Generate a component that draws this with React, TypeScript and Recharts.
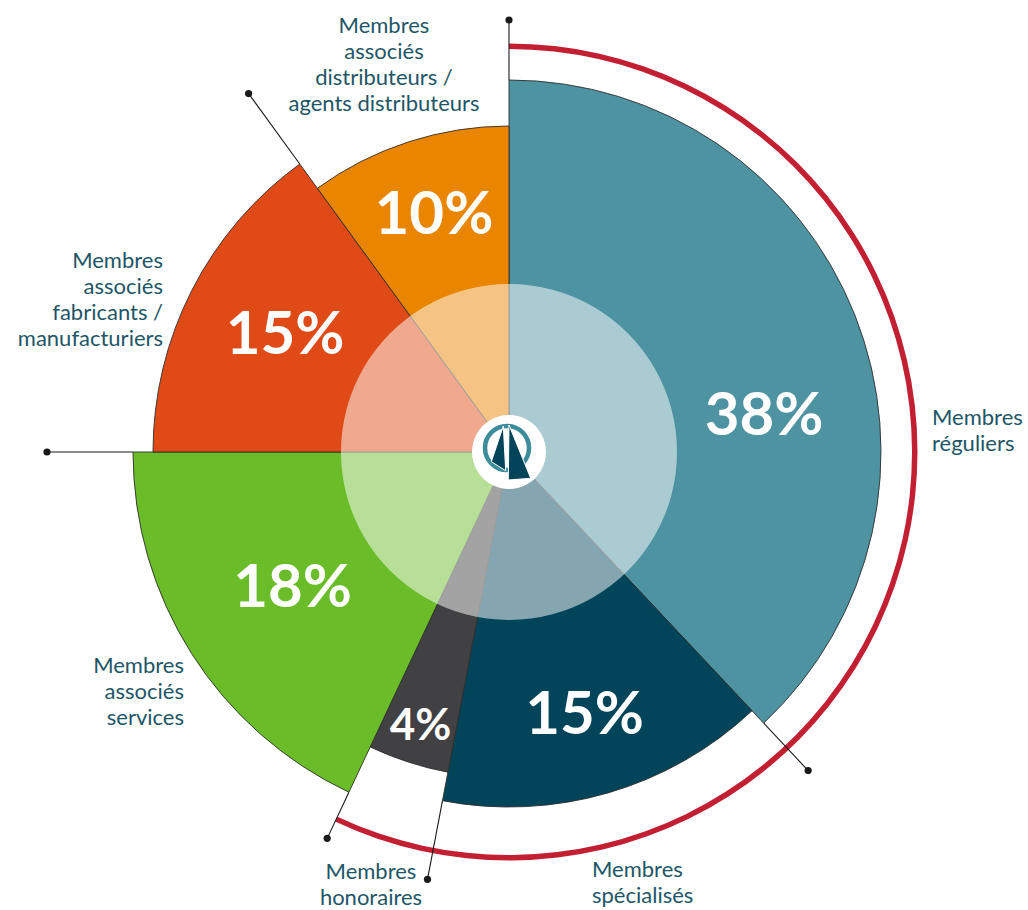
import React from "react";
import { PieChart, Pie, Cell } from "recharts";

// ---------- data ----------
const categories = [
  "Membres réguliers",
  "Membres spécialisés",
  "Membres honoraires",
  "Membres associés services",
  "Membres associés fabricants / manufacturiers",
  "Membres associés distributeurs / agents distributeurs",
];
const categoryLines = [
  ["Membres", "réguliers"],
  ["Membres", "spécialisés"],
  ["Membres", "honoraires"],
  ["Membres", "associés", "services"],
  ["Membres", "associés", "fabricants /", "manufacturiers"],
  ["Membres", "associés", "distributeurs /", "agents distributeurs"],
];
const shares = [38, 15, 4, 18, 15, 10];
const regularGroupSize = 3; // réguliers + spécialisés + honoraires (red arc)

// ---------- styles ----------
const colors = ["#4E93A2", "#02455A", "#414042", "#6ABD28", "#DF4A16", "#EA8500"];
const sliceRadii = [372, 355, 326, 376, 356, 326];
const leaderRadii = [432, 437, 435, 427, 462, 443];
const pctRadii = [258, 271, 286, 254, 254, 251];
const pctAngleShift = [13, 0, 0, 0.8, 1.2, 0.6];
const pctFont = [60, 60, 44, 60, 60, 60];
const labelOffsets = [
  { dx: 423, dy: -27, anchor: "start" },
  { dx: 83, dy: 425, anchor: "start" },
  { dx: -138, dy: 427, anchor: "middle" },
  { dx: -325, dy: 221, anchor: "end" },
  { dx: -346, dy: -184, anchor: "end" },
  { dx: -125, dy: -419, anchor: "middle" },
];
const CX = 509;
const CY = 452;
const RAD = Math.PI / 180;
const TEXT = "#1E5667";
const FONT = "Lato, 'Open Sans', sans-serif";

const rows = categories.map((name, i) => ({ name, value: shares[i] }));
const groupTotal = shares.slice(0, regularGroupSize).reduce((a, b) => a + b, 0);
const total = shares.reduce((a, b) => a + b, 0);
const groupRows = [
  { name: "Membres réguliers (groupe)", value: groupTotal },
  { name: "Membres associés", value: total - groupTotal },
];
const single = [{ name: "centre", value: 1 }];

const polar = (cx: number, cy: number, r: number, a: number) => ({
  x: cx + r * Math.cos(-a * RAD),
  y: cy + r * Math.sin(-a * RAD),
});

const renderLeader = (p: any) => {
  const i = p.index;
  const prev = (i + rows.length - 1) % rows.length;
  const r0 = Math.max(sliceRadii[i], sliceRadii[prev]);
  const a = p.startAngle;
  const s = polar(p.cx, p.cy, r0, a);
  const e = polar(p.cx, p.cy, leaderRadii[i], a);
  return (
    <g key={`leader-${i}`}>
      <line x1={s.x} y1={s.y} x2={e.x} y2={e.y} stroke="#1a1a1a" strokeWidth={1.1} />
      <circle cx={e.x} cy={e.y} r={3.6} fill="#1a1a1a" />
    </g>
  );
};

const renderLabels = (p: any) => {
  const i = p.index;
  const a = p.midAngle - pctAngleShift[i];
  const c = polar(p.cx, p.cy, pctRadii[i], a);
  const fs = pctFont[i];
  const off = labelOffsets[i];
  return (
    <g key={`lab-${i}`}>
      <text
        x={c.x}
        y={c.y + fs * 0.36}
        textAnchor="middle"
        fill="#ffffff"
        fontFamily={FONT}
        fontWeight={700}
        fontSize={fs}
      >
        {`${shares[i]}%`}
      </text>
      <text
        x={p.cx + off.dx}
        y={p.cy + off.dy}
        textAnchor={off.anchor}
        fill={TEXT}
        fontFamily={FONT}
        fontSize={22}
      >
        {categoryLines[i].map((ln, k) => (
          <tspan key={k} x={p.cx + off.dx} dy={k === 0 ? 0 : 26}>
            {ln}
          </tspan>
        ))}
      </text>
    </g>
  );
};

const renderLogo = (p: any) => {
  const { cx, cy } = p;
  return (
    <g key="logo">
      <circle cx={cx - 2} cy={cy - 4} r={22} fill="none" stroke="#3D8C9C" strokeWidth={4.5} />
      <polygon
        points={`${cx - 5.7},${cy - 26} ${cx - 17.7},${cy + 9.7} ${cx - 3.3},${cy + 18.7}`}
        fill="#02455A"
        stroke="#ffffff"
        strokeWidth={1}
      />
      <polygon
        points={`${cx},${cy - 27} ${cx - 0.7},${cy + 28} ${cx + 21.7},${cy + 26.3}`}
        fill="#02455A"
        stroke="#ffffff"
        strokeWidth={1}
      />
    </g>
  );
};

export default function App() {
  return (
    <div style={{ position: "absolute", left: 0, top: 0, width: 1028, height: 910, background: "#fff" }}>
      <PieChart width={1028} height={910} margin={{ top: 0, right: 0, bottom: 0, left: 0 }}>
        {rows.map((_, i) => (
          <Pie
            key={`slice-${i}`}
            data={rows}
            dataKey="value"
            nameKey="name"
            cx={CX}
            cy={CY}
            innerRadius={0}
            outerRadius={sliceRadii[i]}
            startAngle={90}
            endAngle={-270}
            stroke="none"
            isAnimationActive={false}
          >
            {rows.map((_r, j) => (
              <Cell
                key={`c-${j}`}
                fill={j === i ? colors[i] : "none"}
                stroke={j === i ? "#2e2e2e" : "none"}
                strokeWidth={0.9}
              />
            ))}
          </Pie>
        ))}
        <Pie
          data={single}
          dataKey="value"
          cx={CX}
          cy={CY}
          innerRadius={0}
          outerRadius={168}
          startAngle={90}
          endAngle={-270}
          stroke="none"
          fill="#ffffff"
          fillOpacity={0.52}
          isAnimationActive={false}
        />
        <Pie
          data={groupRows}
          dataKey="value"
          cx={CX}
          cy={CY}
          innerRadius={403}
          outerRadius={408.5}
          startAngle={90}
          endAngle={-270}
          stroke="none"
          isAnimationActive={false}
        >
          <Cell fill="#C21F33" />
          <Cell fill="none" />
        </Pie>
        <Pie
          data={rows}
          dataKey="value"
          cx={CX}
          cy={CY}
          innerRadius={0}
          outerRadius={10}
          startAngle={90}
          endAngle={-270}
          fill="none"
          stroke="none"
          label={renderLeader}
          labelLine={false}
          isAnimationActive={false}
        />
        <Pie
          data={single}
          dataKey="value"
          cx={CX}
          cy={CY}
          innerRadius={0}
          outerRadius={37}
          startAngle={90}
          endAngle={-270}
          stroke="none"
          fill="#ffffff"
          label={renderLogo}
          labelLine={false}
          isAnimationActive={false}
        />
        <Pie
          data={rows}
          dataKey="value"
          cx={CX}
          cy={CY}
          innerRadius={0}
          outerRadius={10}
          startAngle={90}
          endAngle={-270}
          fill="none"
          stroke="none"
          label={renderLabels}
          labelLine={false}
          isAnimationActive={false}
        />
      </PieChart>
    </div>
  );
}
